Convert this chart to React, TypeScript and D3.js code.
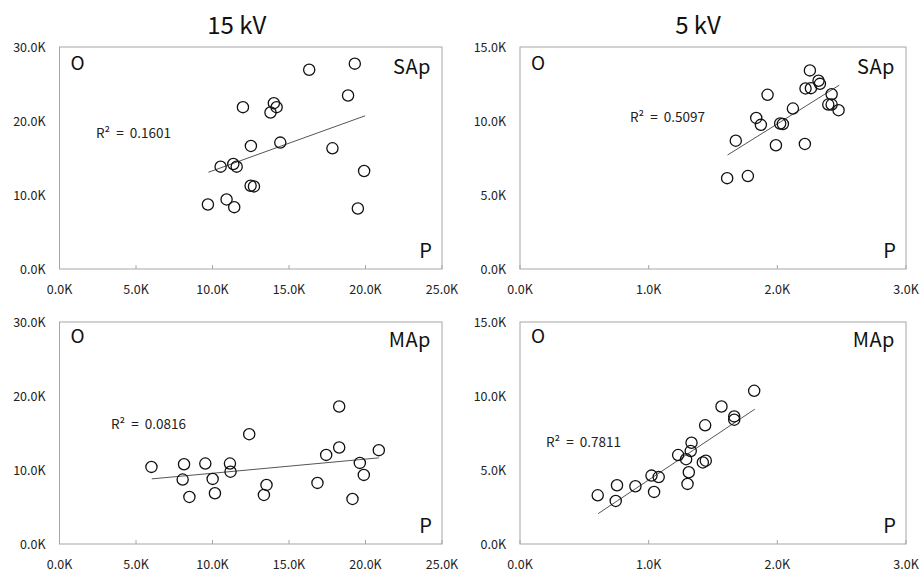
import React from 'react';
import * as d3 from 'd3';

// 15 kV, SAp
const sap15X = [16.32, 19.3, 18.86, 11.99, 14.01, 14.19, 13.79, 12.51, 14.43, 17.84, 10.53, 11.36, 11.58, 19.91, 12.49, 12.71, 9.7, 10.92, 11.42, 19.5];
const sap15Y = [26.93, 27.75, 23.45, 21.87, 22.41, 21.87, 21.15, 16.63, 17.08, 16.31, 13.83, 14.19, 13.83, 13.24, 11.25, 11.16, 8.72, 9.4, 8.36, 8.18];
// 5 kV, SAp
const sap5X = [2.253, 2.32, 2.331, 2.219, 2.261, 1.924, 2.422, 2.396, 2.422, 2.476, 2.121, 1.836, 1.872, 2.022, 2.043, 1.677, 1.989, 2.214, 1.61, 1.771];
const sap5Y = [13.42, 12.72, 12.51, 12.2, 12.22, 11.77, 11.81, 11.11, 11.11, 10.73, 10.84, 10.21, 9.74, 9.83, 9.8, 8.67, 8.36, 8.45, 6.14, 6.28];
// 15 kV, MAp
const map15X = [18.28, 12.4, 17.43, 18.28, 20.87, 19.63, 19.89, 16.86, 19.15, 6.01, 8.14, 8.05, 8.49, 9.53, 10.01, 10.16, 11.14, 11.18, 13.53, 13.36];
const map15Y = [18.58, 14.84, 12.04, 13.04, 12.68, 10.96, 9.34, 8.26, 6.09, 10.42, 10.78, 8.71, 6.36, 10.87, 8.8, 6.86, 10.87, 9.77, 7.98, 6.63];
// 5 kV, MAp
const map5X = [1.82, 1.566, 1.665, 1.665, 1.439, 1.333, 1.327, 1.229, 1.291, 1.421, 1.444, 1.312, 1.302, 1.022, 1.078, 1.042, 0.754, 0.897, 0.604, 0.744];
const map5Y = [10.35, 9.29, 8.62, 8.4, 8.02, 6.84, 6.28, 6.01, 5.73, 5.51, 5.63, 4.85, 4.06, 4.62, 4.52, 3.52, 3.97, 3.9, 3.29, 2.91];

// trendline end points
const sap15Trend = [[9.73, 13.07], [19.97, 20.7]];
const sap5Trend = [[1.613, 7.7], [2.481, 12.42]];
const map15Trend = [[6.03, 8.8], [20.87, 11.64]];
const map5Trend = [[0.607, 2.05], [1.825, 9.11]];

const titles = ['15 kV', '5 kV'];
const r2Labels = ['R² = 0.1601', 'R² = 0.5097', 'R² = 0.0816', 'R² = 0.7811'];
const typeLabels = ['SAp', 'SAp', 'MAp', 'MAp'];
const xTicks15 = [0, 5, 10, 15, 20, 25];
const xTicks5 = [0, 1, 2, 3];
const yTicks15 = [0, 10, 20, 30];
const yTicks5 = [0, 5, 10, 15];

const FONT = '"Noto Sans CJK KR", "Noto Sans", sans-serif';

type PanelProps = {
  left: number; right: number; top: number; bottom: number;
  xs: number[]; ys: number[]; trend: number[][];
  xMax: number; yMax: number; xTicks: number[]; yTicks: number[];
  typeLabel: string; r2: string; r2x: number; r2y: number; labelDy: number;
};

function Panel(p: PanelProps) {
  const x = d3.scaleLinear().domain([0, p.xMax]).range([p.left, p.right]);
  const y = d3.scaleLinear().domain([0, p.yMax]).range([p.bottom, p.top]);
  const fmt = (v: number) => v.toFixed(1) + 'K';
  const line = d3.line<number[]>().x(d => x(d[0])).y(d => y(d[1]));
  return (
    <g>
      <rect x={p.left} y={p.top} width={p.right - p.left} height={p.bottom - p.top}
        fill="none" stroke="#a6a6a6" strokeWidth={1} />
      {p.xTicks.map(t => (
        <g key={'x' + t}>
          <line x1={x(t)} x2={x(t)} y1={p.bottom} y2={p.bottom - 4} stroke="#a6a6a6" />
          <text x={x(t)} y={p.bottom + 25} textAnchor="middle" fontSize={12.5} fill="#222">{fmt(t)}</text>
        </g>
      ))}
      {p.yTicks.map(t => (
        <text key={'y' + t} x={p.left - 14} y={y(t) + 4.5} textAnchor="end" fontSize={12.5} fill="#222">{fmt(t)}</text>
      ))}
      <path d={line(p.trend) || ''} stroke="#555" strokeWidth={1} fill="none" />
      {p.xs.map((v, i) => (
        <circle key={i} cx={x(v)} cy={y(p.ys[i])} r={5.6} fill="none" stroke="#111" strokeWidth={1.3} />
      ))}
      <text x={p.r2x} y={p.r2y} fontSize={13.5} wordSpacing={3} fill="#222">{p.r2}</text>
      <text x={p.left + 18} y={p.top + 23 + p.labelDy} textAnchor="middle" fontSize={19} fill="#111">O</text>
      <text x={p.right - 11} y={p.top + 27 + p.labelDy} textAnchor="end" fontSize={20} letterSpacing={0.5} fill="#111">{p.typeLabel}</text>
      <text x={p.right - 10} y={p.bottom - 11} textAnchor="end" fontSize={20} fill="#111">P</text>
    </g>
  );
}

export default function App() {
  const L1 = 59.5, R1 = 442, L2 = 520, R2 = 906;
  const T1 = 47, B1 = 269, T2 = 322, B2 = 544;
  return (
    <svg width={922} height={574}
      style={{ position: 'absolute', left: 0, top: 0, display: 'block', fontFamily: FONT }}>
      <rect width={922} height={574} fill="#fff" />
      <text x={(L1 + R1) / 2 - 14} y={34} textAnchor="middle" fontSize={24} fill="#111">{titles[0]}</text>
      <text x={(L2 + R2) / 2 - 15} y={34} textAnchor="middle" fontSize={24} fill="#111">{titles[1]}</text>
      <Panel left={L1} right={R1} top={T1} bottom={B1} xs={sap15X} ys={sap15Y} trend={sap15Trend}
        xMax={25} yMax={30} xTicks={xTicks15} yTicks={yTicks15} typeLabel={typeLabels[0]}
        r2={r2Labels[0]} r2x={96} r2y={138} labelDy={0} />
      <Panel left={L2} right={R2} top={T1} bottom={B1} xs={sap5X} ys={sap5Y} trend={sap5Trend}
        xMax={3} yMax={15} xTicks={xTicks5} yTicks={yTicks5} typeLabel={typeLabels[1]}
        r2={r2Labels[1]} r2x={630} r2y={122} labelDy={0} />
      <Panel left={L1} right={R1} top={T2} bottom={B2} xs={map15X} ys={map15Y} trend={map15Trend}
        xMax={25} yMax={30} xTicks={xTicks15} yTicks={yTicks15} typeLabel={typeLabels[2]}
        r2={r2Labels[2]} r2x={111} r2y={429} labelDy={-2} />
      <Panel left={L2} right={R2} top={T2} bottom={B2} xs={map5X} ys={map5Y} trend={map5Trend}
        xMax={3} yMax={15} xTicks={xTicks5} yTicks={yTicks5} typeLabel={typeLabels[3]}
        r2={r2Labels[3]} r2x={546} r2y={447} labelDy={-2} />
    </svg>
  );
}
